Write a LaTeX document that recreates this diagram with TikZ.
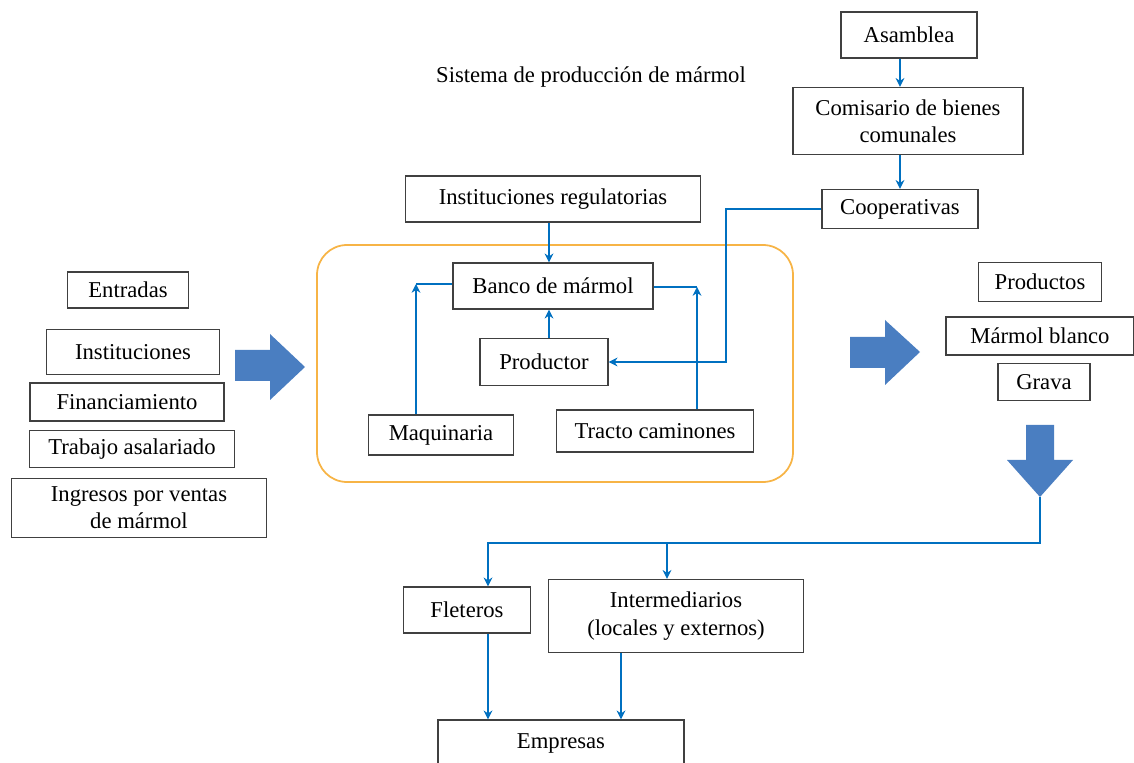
\documentclass[tikz,border=0pt]{standalone}
\usepackage{fontspec}
\setmainfont{Liberation Serif}
\usetikzlibrary{positioning}
\usetikzlibrary{arrows.meta}

\begin{document}
\begin{tikzpicture}[x=0.02cm, y=-0.02cm, %pixel grid of the figure
font=\fontsize{12.9}{15.5}\selectfont,
box/.style ={rectangle, draw=black!75, line width=0.8pt, align=center, inner sep=2pt},
link/.style ={draw=linkblue, line width=1pt},
bigarrow/.style ={fill=arrowblue, draw=none}
]
\definecolor{linkblue}{RGB}{0,112,192}
\definecolor{arrowblue}{RGB}{74,126,193}
\definecolor{sysorange}{RGB}{247,180,70}
\tikzset{>={Stealth[length=5pt,width=5pt]}}
\useasboundingbox (0,0) rectangle (1134,763);
%title
\path (591,77) node (title) {Sistema de producción de mármol};
%top right column
\path (909,35) node[box, minimum width=2.72cm, minimum height=0.92cm] (asam) {Asamblea}
(908,121) node[box, minimum width=4.6cm, minimum height=1.34cm] (comi) {Comisario de bienes\\comunales}
(900,209) node[box, minimum width=3.12cm, minimum height=0.78cm] (coop) {Cooperativas};
\draw[link,->] (asam.south -| 900,0) -- (comi.north -| 900,0);
\draw[link,->] (comi.south -| 900,0) -- (coop.north);
%system box
\draw[sysorange, line width=1pt, rounded corners=0.6cm] (317,245) rectangle (793,482);
\path (553,199) node[box, minimum width=5.9cm, minimum height=0.92cm] (reg) {Instituciones regulatorias}
(553,286) node[box, minimum width=4cm, minimum height=0.92cm] (banco) {Banco de mármol}
(544,362) node[box, minimum width=2.56cm, minimum height=0.94cm] (prod) {Productor}
(441,435) node[box, minimum width=2.9cm, minimum height=0.8cm] (maq) {Maquinaria}
(655,431) node[box, minimum width=3.94cm, minimum height=0.84cm] (tracto) {Tracto caminones};
\draw[link,->] (reg.south -| 549,0) -- (banco.north -| 549,0);
\draw[link,->] (prod.north -| 549,0) -- (banco.south -| 549,0);
\draw[link,->] (coop.west) -- ++(-95,0) |- (prod.east);
%side links of banco
\coordinate (bl) at (416,284);
\coordinate (br) at (697,287);
\draw[link] (banco.west |- bl) -- (bl);
\draw[link,->] (maq.north -| bl) -- (bl);
\draw[link] (banco.east |- br) -- (br);
\draw[link,->] (tracto.north -| br) -- (br);
%entradas
\path (128,290) node[box, minimum width=2.42cm, minimum height=0.72cm] (entr) {Entradas}
(133,352) node[box, minimum width=3.46cm, minimum height=0.9cm] (inst) {Instituciones}
(127,402) node[box, minimum width=3.88cm, minimum height=0.76cm] (fin) {Financiamiento}
(132,449) node[box, minimum width=4.1cm, minimum height=0.74cm] (trab) {Trabajo asalariado}
(139,508) node[box, minimum width=5.1cm, minimum height=1.18cm] (ingr) {Ingresos por ventas\\de mármol};
%productos
\path (1040,282) node[box, minimum width=2.46cm, minimum height=0.78cm] (prods) {Productos}
(1040,336) node[box, minimum width=3.76cm, minimum height=0.76cm] (blanco) {Mármol blanco}
(1044,382) node[box, minimum width=1.84cm, minimum height=0.74cm] (grava) {Grava};
%big arrows
\fill[arrowblue] (235,350) -- (270,350) -- (270,334) -- (305,367) -- (270,400) -- (270,381) -- (235,381) -- cycle;
\fill[arrowblue] (850,337) -- (885,337) -- (885,320) -- (920,352) -- (885,385) -- (885,368) -- (850,368) -- cycle;
\fill[arrowblue] (1026,425) -- (1054,425) -- (1054,460) -- (1073,460) -- (1040,497) -- (1007,460) -- (1026,460) -- cycle;
\coordinate (dtip) at (1040,497);
%destinos
\path (467,610) node[box, minimum width=2.54cm, minimum height=0.92cm] (flet) {Fleteros}
(676,616) node[box, minimum width=5.1cm, minimum height=1.46cm] (inter) {Intermediarios\\(locales y externos)}
(561,743) node[box, minimum width=4.92cm, minimum height=0.92cm] (emp) {Empresas};
\coordinate (fl) at (488,543);
\coordinate (fi) at (667,543);
\coordinate (ie) at (621,653);
\draw[link,->] (dtip) |- (fl) -- (fl |- flet.north);
\draw[link,->] (fi) -- (fi |- inter.north);
\draw[link,->] (flet.south -| fl) -- (fl |- emp.north);
\draw[link,->] (ie) -- (ie |- emp.north);
\end{tikzpicture}
\end{document}
